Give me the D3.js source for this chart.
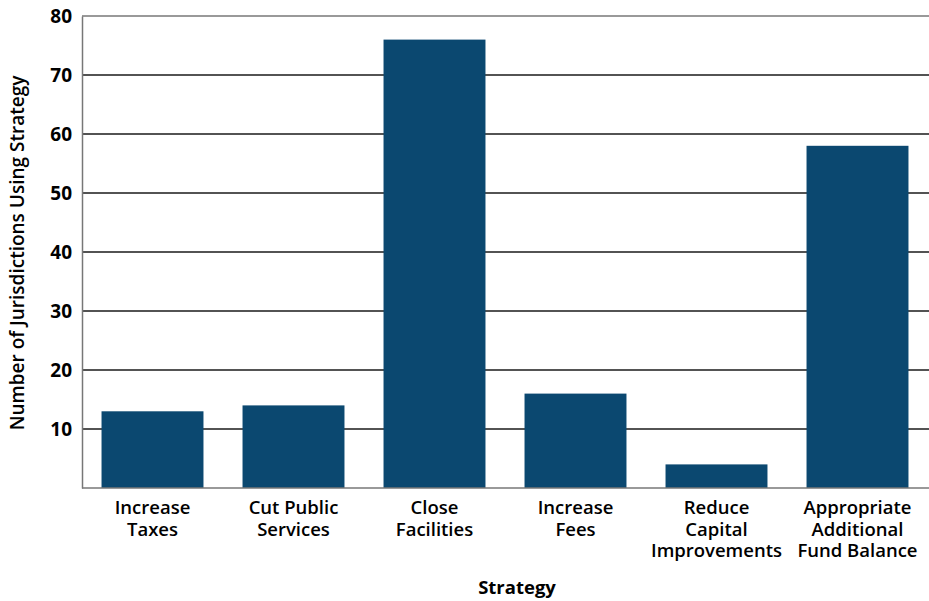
<!DOCTYPE html>
<html>
<head>
<meta charset="utf-8">
<script src="https://cdn.jsdelivr.net/npm/d3@7"></script>
<style>
  body { margin: 0; background: #fff; }
  svg text { font-family: "Open Sans", "Noto Sans", sans-serif; font-weight: 700; fill: #000; }
</style>
</head>
<body>
<svg id="chart" width="929" height="601"></svg>
<script>
// Budget strategies and how many jurisdictions used each one
const categories = [
  ["Increase", "Taxes"],
  ["Cut Public", "Services"],
  ["Close", "Facilities"],
  ["Increase", "Fees"],
  ["Reduce", "Capital", "Improvements"],
  ["Appropriate", "Additional", "Fund Balance"]
];
const values = [13, 14, 76, 16, 4, 58];
const yTicks = [10, 20, 30, 40, 50, 60, 70, 80];
const yTitle = "Number of Jurisdictions Using Strategy";
const xTitle = "Strategy";

const svg = d3.select("#chart");
const margin = { top: 16, right: 1, bottom: 113, left: 82 };
const W = 929, H = 601;
const innerW = W - margin.left - margin.right;
const innerH = H - margin.top - margin.bottom;

const keys = categories.map(c => c.join(" "));
const x = d3.scaleBand().domain(keys).range([0, innerW]).paddingInner(0.277).paddingOuter(0.1385);
const y = d3.scaleLinear().domain([0, 80]).range([innerH, 0]);

const g = svg.append("g").attr("transform", `translate(${margin.left},${margin.top})`);

// horizontal gridlines
g.selectAll("line.grid").data(yTicks).join("line")
  .attr("class", "grid")
  .attr("x1", 0).attr("x2", W - margin.left)
  .attr("y1", d => y(d)).attr("y2", d => y(d))
  .attr("stroke", d => d === 80 ? "#777" : "#1a1a1a")
  .attr("stroke-width", 1.3);

// bars
g.selectAll("rect.bar").data(values).join("rect")
  .attr("class", "bar")
  .attr("x", (d, i) => x(keys[i]))
  .attr("width", x.bandwidth())
  .attr("y", d => y(d))
  .attr("height", d => innerH - y(d))
  .attr("fill", "#0b4870");

// y axis
const yAxis = g.append("g").call(d3.axisLeft(y).tickValues(yTicks).tickSize(0).tickPadding(10));
yAxis.select(".domain").attr("stroke", "#777").attr("stroke-width", 1.5);
yAxis.selectAll("text").style("font-size", "19px").style("font-family", "'Open Sans', sans-serif").style("font-weight", 700).attr("fill", "#000");

// baseline
g.append("line")
  .attr("x1", 0).attr("x2", W - margin.left)
  .attr("y1", innerH).attr("y2", innerH)
  .attr("stroke", "#777").attr("stroke-width", 1.5);

// category labels, one text element per line
const lineRows = [];
categories.forEach((lines, i) => lines.forEach((t, j) => lineRows.push({ key: keys[i], t, j })));
g.append("g").selectAll("text").data(lineRows).join("text")
  .attr("text-anchor", "middle")
  .attr("x", d => x(d.key) + x.bandwidth() / 2)
  .attr("y", d => innerH + 26 + d.j * 21.5)
  .style("font-size", "18.5px")
  .style("font-weight", 600)
  .text(d => d.t);

// axis titles
svg.append("text")
  .attr("x", 517).attr("y", 594)
  .attr("text-anchor", "middle")
  .style("font-size", "18.5px")
  .text(xTitle);

svg.append("text")
  .attr("transform", "translate(24,253) rotate(-90)")
  .attr("text-anchor", "middle")
  .style("font-size", "19px")
  .style("font-weight", 600)
  .text(yTitle);
</script>
</body>
</html>
